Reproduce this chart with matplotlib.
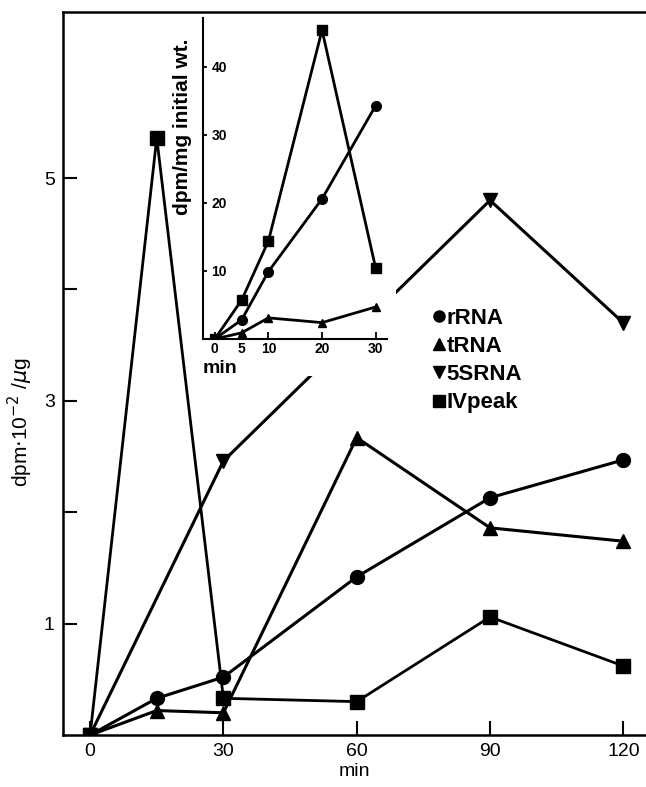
import matplotlib
matplotlib.use('Agg')
import matplotlib.pyplot as plt
from matplotlib.lines import Line2D
from matplotlib.patches import Rectangle

plt.rcParams['font.family'] = ['Liberation Sans', 'DejaVu Sans']

#===============================================================================
# main panel : dpm.10^-2 / ug vs min
t_main   = [0, 15, 30, 60, 90, 120]
rRNA     = [0, 0.33, 0.52, 1.42, 2.13, 2.47]
tRNA     = [0, 0.22, 0.20, 2.67, 1.86, 1.74]
t_5S     = [0, 30, 90, 120]
s5RNA    = [0, 2.46, 4.80, 3.70]
IVpeak   = [0, 5.36, 0.33, 0.30, 1.06, 0.62]

# inset : dpm/mg initial wt. vs min
t_in      = [0, 5, 10, 20, 30]
rRNA_in   = [0, 2.8, 9.9, 20.6, 34.3]
tRNA_in   = [0, 0.9, 3.1, 2.4, 4.7]
IVpeak_in = [0, 5.7, 14.4, 45.4, 10.4]

main_xticks = [0, 30, 60, 90, 120]
main_yticks = [1, 2, 3, 4, 5]
main_ylabels = ['1', '', '3', '', '5']
in_xticks = [0, 5, 10, 20, 30]
in_yticks = [10, 20, 30, 40]
#===============================================================================

fig = plt.figure(figsize=(6.46, 7.87), dpi=100)
ax = fig.add_axes([0.0975, 0.066, 0.9025, 0.9187])

lw = 2.2
ax.plot(t_main, rRNA,   '-o', color='black', lw=lw, ms=10)
ax.plot(t_main, tRNA,   '-^', color='black', lw=lw, ms=10)
ax.plot(t_5S,   s5RNA,  '-v', color='black', lw=lw, ms=10)
ax.plot(t_main, IVpeak, '-s', color='black', lw=2.0, ms=10)

ax.set_xlim(-6.1, 125.1)
ax.set_ylim(0, 6.49)
ax.set_xticks(main_xticks)
ax.set_yticks(main_yticks)
ax.set_yticklabels(main_ylabels)
ax.tick_params(direction='in', length=10, width=1.5, labelsize=14, pad=6)
ax.spines['right'].set_visible(False)
for s in ['left', 'bottom', 'top']:
    ax.spines[s].set_linewidth(1.8)
ax.set_xlabel('min', fontsize=14, labelpad=2)
ax.set_ylabel(r'dpm$\cdot$10$^{-2}$ /$\mu$g', fontsize=15)
ax.yaxis.set_label_coords(-0.048, 0.433)

handles = [Line2D([], [], ls='none', marker=m, color='black', ms=8)
           for m in ['o', '^', 'v', 's']]
leg = ax.legend(handles, ['rRNA', 'tRNA', '5SRNA', 'IVpeak'],
                loc='upper left', bbox_to_anchor=(0.62, 0.603),
                frameon=False, handlelength=0.5, handletextpad=0.1,
                labelspacing=0.32, borderaxespad=0,
                prop={'weight': 'bold', 'size': 16})

# white area behind the inset
fig.add_artist(Rectangle((0.3096, 0.5222), 0.303, 0.4587,
                         transform=fig.transFigure, facecolor='white',
                         edgecolor='none', zorder=0.5))

axi = fig.add_axes([0.3142, 0.5693, 0.2848, 0.408], zorder=1)
axi.patch.set_alpha(0)
axi.plot(t_in, IVpeak_in, '-s', color='black', lw=2.0, ms=7)
axi.plot(t_in, rRNA_in,   '-o', color='black', lw=2.0, ms=7)
axi.plot(t_in, tRNA_in,   '-^', color='black', lw=2.0, ms=6)
axi.set_xlim(-2.2, 32.1)
axi.set_ylim(0, 47.2)
axi.spines['right'].set_visible(False)
axi.spines['top'].set_visible(False)
axi.spines['left'].set_linewidth(1.5)
axi.spines['bottom'].set_linewidth(1.5)
axi.set_xticks(in_xticks)
axi.set_yticks(in_yticks)
axi.tick_params(axis='x', direction='in', length=5, width=1.3,
                labelsize=10, pad=2)
axi.tick_params(axis='y', direction='in', length=3, width=1.3,
                labelsize=10, pad=-6)
for lab in axi.get_xticklabels() + axi.get_yticklabels():
    lab.set_fontweight('bold')
for lab in axi.get_yticklabels():
    lab.set_horizontalalignment('left')
axi.set_ylabel('dpm/mg initial wt.', fontsize=15, fontweight='bold')
axi.yaxis.set_label_coords(-0.06, 0.66)
axi.text(0.0, -0.065, 'min', transform=axi.transAxes, ha='left', va='top',
         fontsize=14, fontweight='bold')

fig.savefig('out.png', dpi=100)
